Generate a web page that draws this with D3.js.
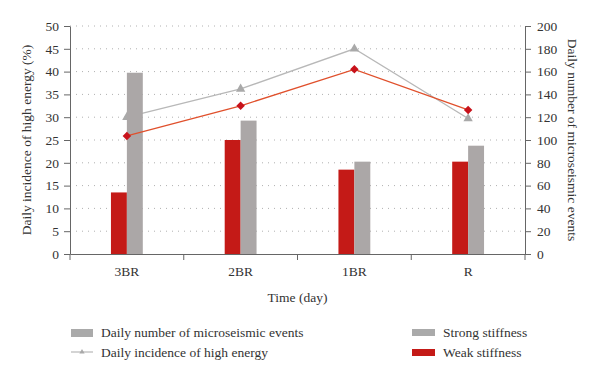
<!DOCTYPE html>
<html lang="en">
<head>
  <meta charset="utf-8">
  <title>microseismic</title>
  <style>
  * { margin:0; padding:0; }
  body { background: #fff; }
  text {
    font-family: "Liberation Serif", "DejaVu Serif", serif;
    font-size: 13.5px;
    fill: #333;
  }
  .axis path, .axis line { stroke: #666; }
  .grid line { stroke: #b0b0b0; stroke-dasharray: 1,5; }
  </style>
  <script src="https://d3js.org/d3.v7.min.js"></script>
</head>
<body>
  <div id="chart"></div>
  <script type="text/javascript">
    // data
    var days = ["3BR", "2BR", "1BR", "R"];
    var weakEvents = [54, 100, 74, 81];      // right axis, bars
    var strongEvents = [159, 117, 81, 95];   // right axis, bars
    var weakIncidence = [25.9, 32.5, 40.5, 31.6];   // left axis, %
    var strongIncidence = [30.0, 36.2, 45.0, 29.7];
    var leftTicks = [0, 5, 10, 15, 20, 25, 30, 35, 40, 45, 50];
    var rightTicks = [0, 20, 40, 60, 80, 100, 120, 140, 160, 180, 200];

    var width = 600, height = 380;
    var plotLeft = 70, plotRight = 525, plotTop = 26, plotBottom = 254;
    var red = "#c41a17", gray = "#aba7a7", lineRed = "#e0502c", lineGray = "#b8b8b8";

    var svg = d3.select("#chart").append("svg")
      .attr("width", width)
      .attr("height", height);

    var x = d3.scaleBand().domain(days).range([plotLeft, plotRight]).padding(0);
    var yL = d3.scaleLinear().domain([0, 50]).range([plotBottom, plotTop]);
    var yR = d3.scaleLinear().domain([0, 200]).range([plotBottom, plotTop]);
    var barW = x.bandwidth() * 0.14;
    var cx = function(d) { return x(d) + x.bandwidth() / 2; };

    // dotted grid
    svg.append("g").attr("class", "grid")
      .selectAll("line")
      .data(leftTicks.slice(1))
      .join("line")
      .attr("x1", plotLeft).attr("x2", plotRight)
      .attr("y1", function(d) { return yL(d); })
      .attr("y2", function(d) { return yL(d); });

    // gray line goes under the bars
    var line = d3.line()
      .x(function(d, i) { return cx(days[i]); })
      .y(function(d) { return yL(d); });

    svg.append("path")
      .datum(strongIncidence)
      .attr("d", line)
      .attr("fill", "none")
      .attr("stroke", lineGray)
      .attr("stroke-width", 1.3);
    svg.selectAll("path.tri")
      .data(strongIncidence)
      .join("path")
      .attr("class", "tri")
      .attr("d", d3.symbol().type(d3.symbolTriangle).size(38))
      .attr("transform", function(d, i) { return "translate(" + cx(days[i]) + "," + yL(d) + ")"; })
      .attr("fill", "#a9a9a9");

    // bars
    svg.selectAll("rect.weak")
      .data(weakEvents)
      .join("rect")
      .attr("class", "weak")
      .attr("x", function(d, i) { return cx(days[i]) - barW; })
      .attr("width", barW)
      .attr("y", function(d) { return yR(d); })
      .attr("height", function(d) { return plotBottom - yR(d); })
      .attr("fill", red);
    svg.selectAll("rect.strong")
      .data(strongEvents)
      .join("rect")
      .attr("class", "strong")
      .attr("x", function(d, i) { return cx(days[i]); })
      .attr("width", barW)
      .attr("y", function(d) { return yR(d); })
      .attr("height", function(d) { return plotBottom - yR(d); })
      .attr("fill", gray);

    // red line on top
    svg.append("path")
      .datum(weakIncidence)
      .attr("d", line)
      .attr("fill", "none")
      .attr("stroke", lineRed)
      .attr("stroke-width", 1.3);
    svg.selectAll("path.dia")
      .data(weakIncidence)
      .join("path")
      .attr("class", "dia")
      .attr("d", d3.symbol().type(d3.symbolSquare).size(36))
      .attr("transform", function(d, i) { return "translate(" + cx(days[i]) + "," + yL(d) + ") rotate(45)"; })
      .attr("fill", "#c8121b");

    // axes
    svg.append("g").attr("class", "axis")
      .attr("transform", "translate(" + plotLeft + ",0)")
      .call(d3.axisLeft(yL).tickValues(leftTicks).tickSize(6).tickPadding(5).tickSizeOuter(0));
    svg.append("g").attr("class", "axis")
      .attr("transform", "translate(" + plotRight + ",0)")
      .call(d3.axisRight(yR).tickValues(rightTicks).tickSize(6).tickPadding(6).tickSizeOuter(0));
    svg.append("g").attr("class", "axis")
      .attr("transform", "translate(0," + plotBottom + ")")
      .call(d3.axisBottom(x).tickSize(0).tickPadding(12).tickSizeOuter(0));
    // category ticks sit on band edges
    svg.append("g").attr("class", "axis")
      .selectAll("line")
      .data(days.concat(["end"]))
      .join("line")
      .attr("x1", function(d, i) { return plotLeft + i * x.bandwidth(); })
      .attr("x2", function(d, i) { return plotLeft + i * x.bandwidth(); })
      .attr("y1", plotBottom).attr("y2", plotBottom + 6);
    svg.selectAll(".axis text").style("font-size", "13.5px").attr("fill", "#333")
      .style("font-family", "'Liberation Serif', serif");
    svg.selectAll(".axis .domain").attr("stroke", "#666");

    // axis titles
    svg.append("text")
      .attr("transform", "translate(31," + (plotTop + plotBottom) / 2 + ") rotate(-90)")
      .attr("text-anchor", "middle")
      .text("Daily incidence of high energy (%)");
    svg.append("text")
      .attr("transform", "translate(568," + (plotTop + plotBottom) / 2 + ") rotate(90)")
      .attr("text-anchor", "middle")
      .text("Daily number of microseismic events");
    svg.append("text")
      .attr("x", (plotLeft + plotRight) / 2).attr("y", 302)
      .attr("text-anchor", "middle")
      .text("Time (day)");

    // legend
    var lg = svg.append("g");
    lg.append("rect").attr("x", 71).attr("y", 329).attr("width", 22).attr("height", 8).attr("fill", "#aaa");
    lg.append("text").attr("x", 101).attr("y", 337).text("Daily number of microseismic events");
    lg.append("line").attr("x1", 71).attr("x2", 93).attr("y1", 352).attr("y2", 352)
      .attr("stroke", lineGray).attr("stroke-width", 1.2);
    lg.append("path").attr("d", d3.symbol().type(d3.symbolTriangle).size(12))
      .attr("transform", "translate(82,352)").attr("fill", "#a9a9a9");
    lg.append("text").attr("x", 101).attr("y", 357).text("Daily incidence of high energy");
    lg.append("rect").attr("x", 412).attr("y", 329).attr("width", 23).attr("height", 7).attr("fill", "#aaa");
    lg.append("text").attr("x", 443).attr("y", 337).text("Strong stiffness");
    lg.append("rect").attr("x", 412).attr("y", 349).attr("width", 23).attr("height", 7).attr("fill", red);
    lg.append("text").attr("x", 443).attr("y", 357).text("Weak stiffness");
  </script>
</body>
</html>
